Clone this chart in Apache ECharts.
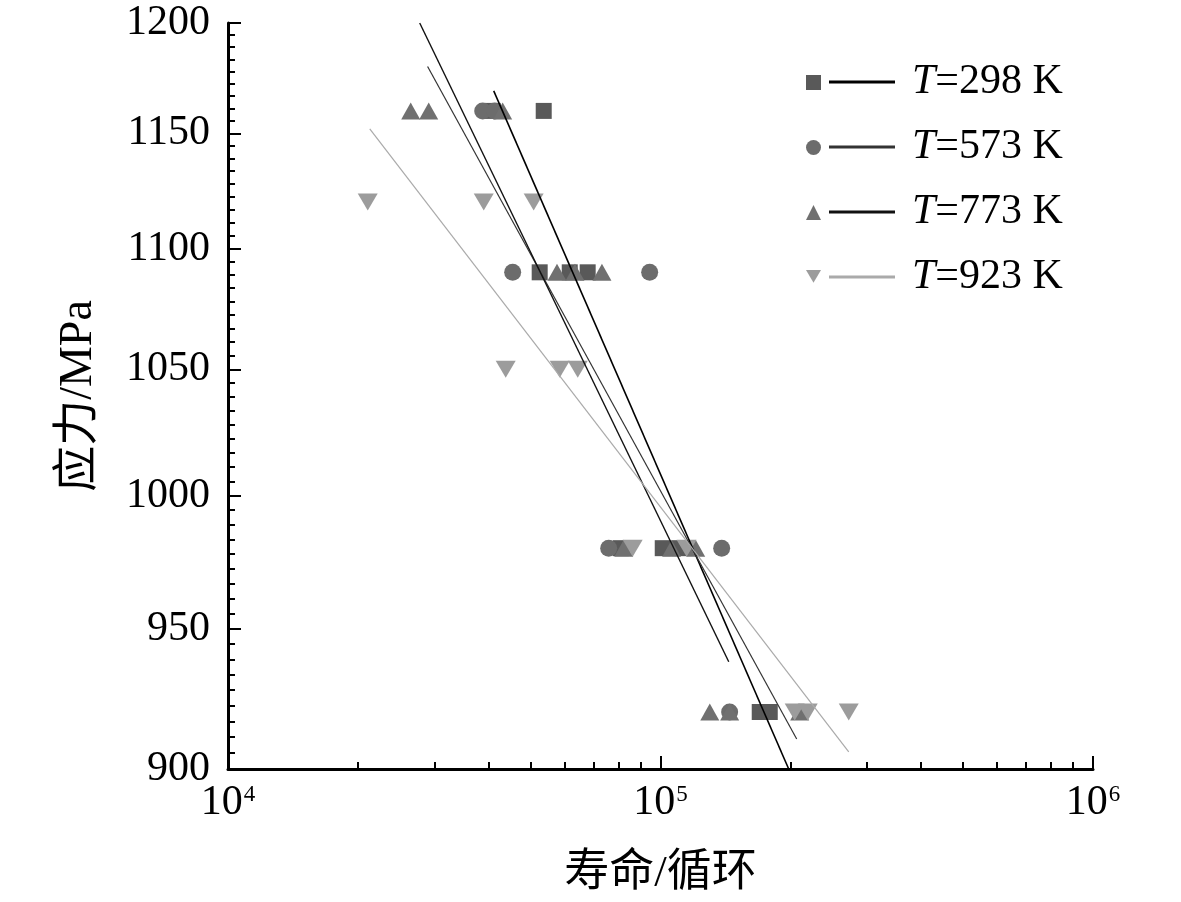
<!DOCTYPE html>
<html>
<head>
<meta charset="utf-8">
<script src="https://cdn.jsdelivr.net/npm/echarts@6/dist/echarts.min.js"></script>
<style>
html,body{margin:0;padding:0;background:#fff;}
#chart{width:1181px;height:902px;}
</style>
</head>
<body>
<div id="chart"></div>
<script>
// ---- data (life in cycles, stress in MPa) ----
const temps = ['298', '573', '773', '923'];

const life298 = [40930, 53700, 52560, 61680, 67860, 80910, 101200, 110800, 169600, 178900];
const stress298 = [1160, 1160, 1090, 1090, 1090, 980, 980, 980, 920, 920];

const life573 = [38810, 41370, 45520, 94400, 75890, 138500, 144500];
const stress573 = [1160, 1160, 1090, 1090, 980, 980, 920];

const life773 = [26450, 29110, 43160, 57630, 63420, 73220, 82220, 106100, 120600, 130000, 144500, 209800];
const stress773 = [1160, 1160, 1160, 1090, 1090, 1090, 980, 980, 980, 920, 920, 920];

const life923 = [21040, 39020, 50900, 43860, 58480, 64360, 86230, 114900, 204300, 219000, 272400];
const stress923 = [1120, 1120, 1120, 1050, 1050, 1050, 980, 980, 920, 920, 920];

// fitted lines: endpoints
const fitLife298 = [41150, 197900];
const fitStress298 = [1169, 900];
const fitLife573 = [28940, 206500];
const fitStress573 = [1180, 910.5];
const fitLife773 = [27750, 143800];
const fitStress773 = [1200, 938];
const fitLife923 = [21270, 272400];
const fitStress923 = [1152, 906];

const yTickLabels = [900, 950, 1000, 1050, 1100, 1150, 1200];
const xTickLabels = [1e4, 1e5, 1e6];

// ---- helpers ----
function pairs(xs, ys) { return xs.map((x, i) => [x, ys[i]]); }

const yMinor = [];
for (let i = 0; i < yTickLabels.length - 1; i++) {
  const a = yTickLabels[i], b = yTickLabels[i + 1];
  for (let k = 1; k <= 8; k++) yMinor.push(a + (b - a) * k / 9);
}
const xMinor = [];
for (let i = 0; i < xTickLabels.length - 1; i++) {
  for (let k = 2; k <= 9; k++) xMinor.push(xTickLabels[i] * k);
}

const FONT = "'Liberation Serif', 'Times New Roman', 'Noto Sans CJK SC', serif";
const downTri = 'path://M0,0L20,0L10,17Z';

const chart = echarts.init(document.getElementById('chart'));

const markerNames = temps.map(t => 'm' + t);
const lineNames = temps.map(t => 'T=' + t + ' K');

const option = {
  animation: false,
  backgroundColor: '#fff',
  textStyle: { fontFamily: FONT },
  grid: { left: 228, right: 88, top: 23, bottom: 133, containLabel: false, outerBoundsMode: 'none' },
  legend: [
    {
      data: markerNames,
      orient: 'vertical',
      left: 801,
      top: 70,
      itemWidth: 15,
      itemHeight: 15,
      itemGap: 50,
      selectedMode: false,
      formatter: () => ' ',
      itemStyle: { opacity: 1 },
      textStyle: { fontSize: 1, lineHeight: 1 }
    },
    {
      data: lineNames,
      orient: 'vertical',
      left: 824,
      top: 55,
      icon: 'rect',
      itemWidth: 66,
      itemHeight: 3,
      itemGap: 21,
      selectedMode: false,
      formatter: name => '{i|T}{n|' + name.slice(1) + '}',
      textStyle: {
        fontFamily: FONT,
        fontSize: 42,
        lineHeight: 44,
        color: '#000',
        rich: {
          i: { fontFamily: FONT, fontSize: 42, lineHeight: 44, fontStyle: 'italic', color: '#000', padding: [0, 0, 0, 12] },
          n: { fontFamily: FONT, fontSize: 42, lineHeight: 44, color: '#000' }
        }
      }
    }
  ],
  xAxis: [
    {
      type: 'log',
      min: 1e4,
      max: 1e6,
      name: '寿命/循环',
      nameLocation: 'middle',
      nameGap: 83,
      nameTextStyle: { fontFamily: FONT, fontSize: 45, color: '#000' },
      axisLine: { lineStyle: { color: '#000', width: 3 } },
      axisTick: { inside: true, length: 13, lineStyle: { color: '#000', width: 2 }, customValues: xTickLabels },
      axisLabel: {
        customValues: xTickLabels,
        margin: 12,
        formatter: v => '{a|10}{b|' + Math.round(Math.log10(v)) + '}',
        rich: {
          a: { fontFamily: FONT, fontSize: 42, lineHeight: 44, color: '#000' },
          b: { fontFamily: FONT, fontSize: 23, lineHeight: 23, color: '#000', verticalAlign: 'top', padding: [2, 0, 0, 1] }
        }
      },
      splitLine: { show: false },
      minorTick: { show: false }
    },
    {
      type: 'log',
      min: 1e4,
      max: 1e6,
      gridIndex: 0,
      position: 'bottom',
      axisLine: { show: false },
      axisTick: { inside: true, length: 7, lineStyle: { color: '#000', width: 2 }, customValues: xMinor },
      axisLabel: { show: false },
      splitLine: { show: false }
    }
  ],
  yAxis: [
    {
      type: 'log',
      min: 900,
      max: 1200,
      name: '应力/MPa',
      nameLocation: 'middle',
      nameGap: 126,
      nameRotate: 90,
      nameTextStyle: { fontFamily: FONT, fontSize: 46, color: '#000' },
      axisLine: { lineStyle: { color: '#000', width: 3 } },
      axisTick: { inside: true, length: 13, lineStyle: { color: '#000', width: 2 }, customValues: yTickLabels },
      axisLabel: {
        customValues: yTickLabels,
        margin: 18,
        fontFamily: FONT,
        fontSize: 42,
        color: '#000',
        formatter: v => String(Math.round(v))
      },
      splitLine: { show: false },
      minorTick: { show: false }
    },
    {
      type: 'log',
      min: 900,
      max: 1200,
      gridIndex: 0,
      position: 'left',
      axisLine: { show: false },
      axisTick: { inside: true, length: 7, lineStyle: { color: '#000', width: 2 }, customValues: yMinor },
      axisLabel: { show: false },
      splitLine: { show: false }
    }
  ],
  series: [
    { name: 'm298', type: 'scatter', symbol: 'rect', symbolSize: 16, itemStyle: { color: '#595959', opacity: 1 }, data: pairs(life298, stress298), z: 2 },
    { name: 'm573', type: 'scatter', symbol: 'circle', symbolSize: 17, itemStyle: { color: '#6c6c6c', opacity: 1 }, data: pairs(life573, stress573), z: 2 },
    { name: 'm773', type: 'scatter', symbol: 'triangle', symbolSize: [19, 17], itemStyle: { color: '#707070', opacity: 1 }, data: pairs(life773, stress773), z: 2 },
    { name: 'm923', type: 'scatter', symbol: downTri, symbolSize: [20, 17], itemStyle: { color: '#9c9c9c', opacity: 1 }, data: pairs(life923, stress923), z: 2 },
    { name: 'T=298 K', type: 'line', symbol: 'none', lineStyle: { color: '#000', width: 1.6 }, itemStyle: { color: '#000' }, data: pairs(fitLife298, fitStress298), z: 3 },
    { name: 'T=573 K', type: 'line', symbol: 'none', lineStyle: { color: '#333', width: 1.2 }, itemStyle: { color: '#333' }, data: pairs(fitLife573, fitStress573), z: 3 },
    { name: 'T=773 K', type: 'line', symbol: 'none', lineStyle: { color: '#111', width: 1.4 }, itemStyle: { color: '#111' }, data: pairs(fitLife773, fitStress773), z: 3 },
    { name: 'T=923 K', type: 'line', symbol: 'none', lineStyle: { color: '#aaa', width: 1.2 }, itemStyle: { color: '#aaa' }, data: pairs(fitLife923, fitStress923), z: 3 }
  ]
};

chart.setOption(option);
</script>
</body>
</html>
